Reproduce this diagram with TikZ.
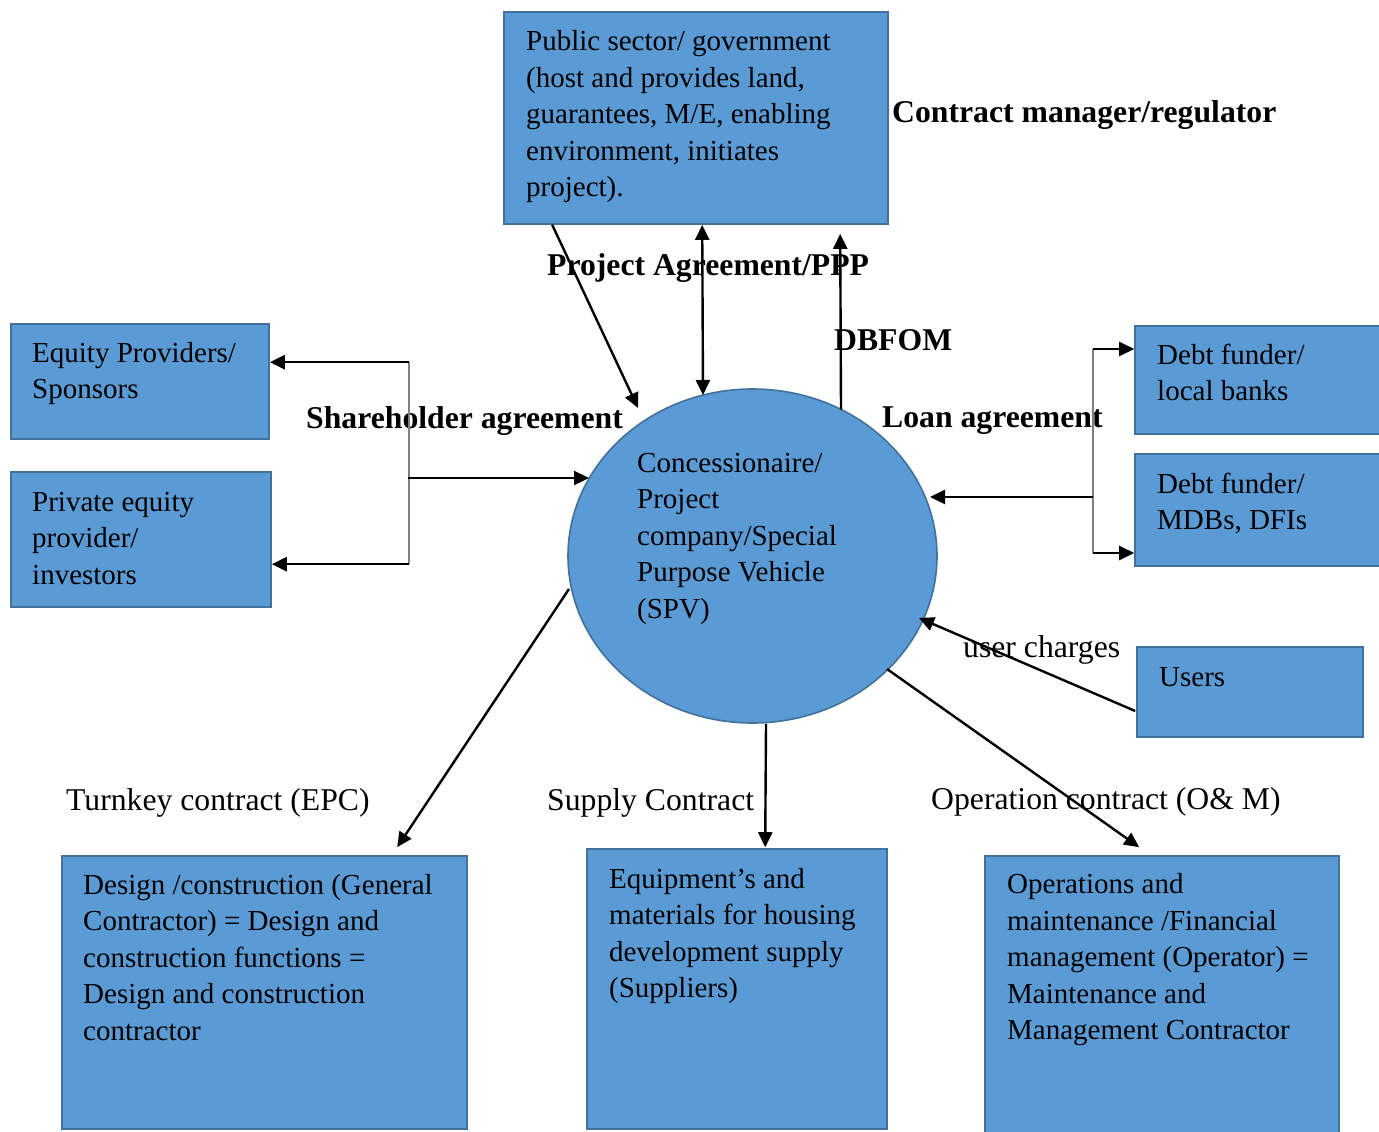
\documentclass[tikz,border=0pt]{standalone}
\usepackage{fontspec}
\setmainfont{Liberation Serif}
\usetikzlibrary{arrows.meta,shapes.geometric,calc}
\definecolor{boxfill}{HTML}{5B9BD5}
\definecolor{boxline}{HTML}{41719C}
\definecolor{bracketgray}{HTML}{7F7F7F}
\newcommand{\boxlines}[1]{\begin{tabular}[t]{@{}l@{}}#1\end{tabular}}
\begin{document}
\begin{tikzpicture}[x=1pt,y=-1pt,
  box/.style={rectangle,draw=boxline,fill=boxfill,line width=1.6pt,inner sep=0pt},
  hub/.style={ellipse,draw=boxline,fill=boxfill,line width=1.6pt,inner sep=0pt},
  intext/.style={anchor=base west,inner sep=0pt,font=\fontsize{29}{36.5}\selectfont},
  lbl/.style={anchor=base west,inner sep=0pt,font=\fontsize{31.7}{38}\selectfont},
  blbl/.style={anchor=base west,inner sep=0pt,font=\fontsize{31.7}{38}\selectfont\bfseries},
  link/.style={line width=2.4pt,-{Triangle[length=15pt,width=14pt]}},
  dlink/.style={line width=2.4pt,{Triangle[length=15pt,width=14pt]}-{Triangle[length=15pt,width=14pt]}},
  bracket/.style={draw=bracketgray,line width=1.4pt}
]
\useasboundingbox (0,0) rectangle (1379,1132);
\fill[white] (0,0) rectangle (1379,1132);

% boxes
\node[box,minimum width=384pt,minimum height=212pt] (pub) at (696,118) {};
\node[box,minimum width=258pt,minimum height=115pt] (eq) at (140,381.5) {};
\node[box,minimum width=260pt,minimum height=135pt] (pe) at (141,539.5) {};
\node[box,minimum width=250pt,minimum height=108pt] (d1) at (1260,380) {};
\node[box,minimum width=250pt,minimum height=112pt] (d2) at (1260,510) {};
\node[box,minimum width=226pt,minimum height=90pt] (usr) at (1250,692) {};
\node[box,minimum width=405pt,minimum height=273pt] (dc) at (264.5,992.5) {};
\node[box,minimum width=300pt,minimum height=280pt] (eqp) at (737,989) {};
\node[box,minimum width=354pt,minimum height=284pt] (om) at (1162,998) {};
\node[hub,minimum width=369pt,minimum height=334pt] (spv) at (752.5,556) {};

% box texts
\node[intext] (pubt) at (526,51) {\boxlines{Public sector/ government\\(host and provides land,\\guarantees, M/E, enabling\\environment, initiates\\project).}};
\node[intext] (eqt) at (32,362) {\boxlines{Equity Providers/\\Sponsors}};
\node[intext] (pet) at (32,511) {\boxlines{Private equity\\provider/\\investors}};
\node[intext] (d1t) at (1157,364) {\boxlines{Debt funder/\\local banks}};
\node[intext] (d2t) at (1157,493) {\boxlines{Debt funder/\\MDBs, DFIs}};
\node[intext] (usrt) at (1159,686) {Users};
\node[intext] (spvt) at (637,472) {\boxlines{Concessionaire/\\Project\\company/Special\\Purpose Vehicle\\(SPV)}};
\node[intext] (dct) at (83,894) {\boxlines{Design /construction (General\\Contractor) = Design and\\construction functions =\\Design and construction\\contractor}};
\node[intext] (eqpt) at (609,888) {\boxlines{Equipment’s and\\materials for housing\\development supply\\(Suppliers)}};
\node[intext] (omt) at (1007,893.5) {\boxlines{Operations and\\maintenance /Financial\\management (Operator) =\\Maintenance and\\Management Contractor}};

% relation labels
\node[blbl] (cmr) at (892,122) {Contract manager/regulator};
\node[blbl] (pag) at (547,275) {Project Agreement/PPP};
\node[blbl] (dbf) at (834,350) {DBFOM};
\node[blbl] (sha) at (306,428) {Shareholder agreement};
\node[blbl] (loa) at (882,427) {Loan agreement};
\node[lbl] (uch) at (963,657) {user charges};
\node[lbl] (tkc) at (66,810) {Turnkey contract (EPC)};
\node[lbl] (spc) at (547,810) {Supply Contract};
\node[lbl] (opc) at (931,809) {Operation contract (O\& M)};

% government and SPV
\draw[link] ($(pub.south west)+(49,0)$) -- ($(spv.center)+(-114.5,-148)$);
\draw[dlink] ($(pub.south west)+(199,0)$) -- ($(spv.center)+(-49.5,-161)$);
\draw[link] ($(spv.center)+(88.5,-146.5)$) -- ($(pub.south west)+(337,9)$);

% shareholder bracket
\coordinate (shtop) at ($(eq.north east)+(139,39)$);
\coordinate (shbot) at ($(pe.north east)+(137,93)$);
\coordinate (shmid) at (408,478);
\draw[bracket] (shtop) -- (shbot);
\draw[link] (shtop) -- (shtop -| eq.east);
\draw[link] (shbot) -- (shbot -| pe.east);
\draw[link] (shmid) -- ($(spv.center)+(-163.5,-78)$);

% loan bracket
\coordinate (lntop) at (1093,349);
\coordinate (lnbot) at (1093,553);
\coordinate (lnmid) at (1093,497);
\draw[bracket] (lntop) -- (lnbot);
\draw[link] (lntop) -- (lntop -| d1.west);
\draw[link] (lnbot) -- (lnbot -| d2.west);
\draw[link] (lnmid) -- ($(spv.center)+(177.5,-59)$);

% users and contracts
\draw[link] ($(usr.west)+(-1,19)$) -- ($(spv.center)+(166.5,62)$);
\draw[link] ($(spv.center)+(-183.5,33)$) -- ($(dc.north west)+(336,-8)$);
\draw[link] ($(spv.south)+(13.5,0)$) -- ($(eqp.north west)+(179,-1)$);
\draw[link] ($(spv.center)+(134.5,113)$) -- ($(om.north west)+(155,-8)$);
\end{tikzpicture}
\end{document}
